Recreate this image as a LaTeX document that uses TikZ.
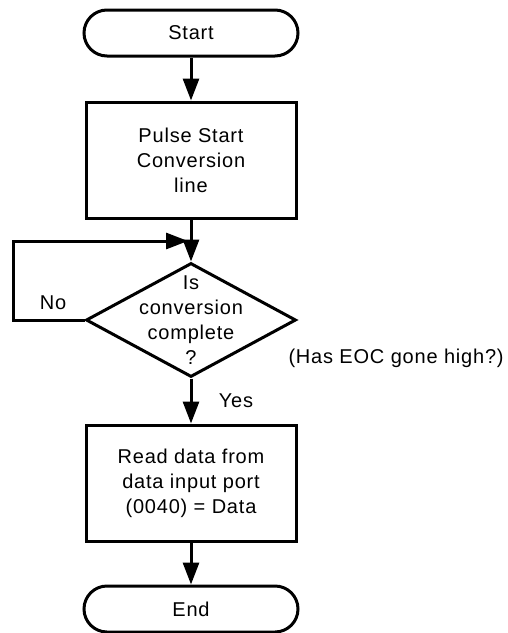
\documentclass[tikz,border=0pt]{standalone}
\usepackage{fontspec}
\setmainfont[LetterSpace=4]{Liberation Sans}
\usetikzlibrary{shapes.geometric,arrows.meta}
\begin{document}
\begin{tikzpicture}[x=1pt,y=1pt,
  line width=3pt,
  every node/.style={font=\fontsize{20}{25}\selectfont, align=center},
  term/.style={draw, rectangle, rounded corners=23pt, minimum width=214pt, minimum height=46pt, inner sep=0pt},
  proc/.style={draw, rectangle, minimum width=210pt, minimum height=116pt, inner sep=0pt},
  dia/.style={draw, diamond, minimum width=210pt, minimum height=114pt, inner sep=0pt},
  flow/.style={-{Triangle[length=22pt,width=16pt]}, line width=3pt},
  lbl/.style={inner sep=0pt}
]
\useasboundingbox (0,0) rectangle (507,-633);
\node[term] (start) at (191,-33) {Start};
\node[proc] (p1) at (191,-160) {Pulse Start\\Conversion\\line};
\node[dia] (dec) at (191,-320) {};
\node[lbl] (dectxt) at (191,-320) {Is\\conversion\\complete\\?};
\node[proc] (p2) at (191,-483) {Read data from\\data input port\\(0040) = Data};
\node[term] (end) at (191,-609) {End};
\coordinate (j) at (191,-241);
\coordinate (fl) at (13,-320);
\coordinate (fu) at (13,-241);
\node[lbl] (no) at (53,-303) {No};
\node[lbl] (yes) at (236,-401) {Yes};
\node[lbl, anchor=west] (eoc) at (287,-358) {(Has EOC gone high?)};
\draw[flow] (start.south) -- (p1.north);
\draw[flow] (p1.south) -- (dec.north);
\draw[flow, shorten >=3pt] (dec.west) -- (fl) -- (fu) -- (j);
\draw[flow] (dec.south) -- (p2.north);
\draw[flow] (p2.south) -- (end.north);
\end{tikzpicture}
\end{document}
